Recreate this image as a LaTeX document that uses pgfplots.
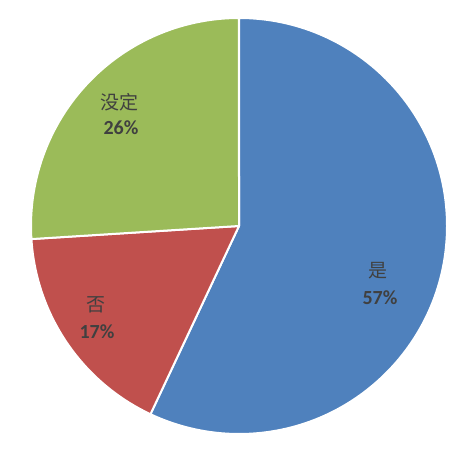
\documentclass[border=0pt]{standalone}
\usepackage{pgfplots}
\pgfplotsset{compat=1.18}
\usepackage{pgfplotstable}
\usepackage{fontspec}
\setmainfont{Carlito}
\newfontfamily\cjk{Noto Sans CJK SC}
\definecolor{pieblue}{HTML}{4F81BD}
\definecolor{piered}{HTML}{C0504D}
\definecolor{piegreen}{HTML}{9BBB59}
\definecolor{textgray}{HTML}{404040}
\pgfplotstableread{
id value
1 57
2 17
3 26
}\piedata
\pgfplotstablegetelem{0}{value}\of\piedata \let\vA\pgfplotsretval
\pgfplotstablegetelem{1}{value}\of\piedata \let\vB\pgfplotsretval
\pgfplotstablegetelem{2}{value}\of\piedata \let\vC\pgfplotsretval
\pgfmathsetmacro\tot{\vA+\vB+\vC}
\pgfmathsetmacro\aA{90-360*(\vA/\tot)}
\pgfmathsetmacro\aB{\aA-360*(\vB/\tot)}
\pgfmathsetmacro\aC{\aB-360*(\vC/\tot)}
\begin{document}
\begin{tikzpicture}
\begin{axis}[scale only axis, width=473pt, height=452pt,
  xmin=0, xmax=473, ymin=0, ymax=452, hide axis, clip=false]
\path (axis cs:0,0) rectangle (axis cs:473,452);
\filldraw[fill=pieblue, draw=white, line width=2pt, line join=round]
  (axis cs:239,226) -- +(90:208pt) arc[start angle=90, end angle=\aA, radius=208pt] -- cycle;
\filldraw[fill=piered, draw=white, line width=2pt, line join=round]
  (axis cs:239,226) -- +(\aA:208pt) arc[start angle=\aA, end angle=\aB, radius=208pt] -- cycle;
\filldraw[fill=piegreen, draw=white, line width=2pt, line join=round]
  (axis cs:239,226) -- +(\aB:208pt) arc[start angle=\aB, end angle=\aC, radius=208pt] -- cycle;
\node[text=textgray, font=\cjk\fontsize{19}{22}\selectfont] at (axis cs:378,181) {是};
\node[text=textgray, font=\bfseries\fontsize{20}{24}\selectfont] at (axis cs:380,154) {57\%};
\node[text=textgray, font=\cjk\fontsize{19}{22}\selectfont] at (axis cs:96,147) {否};
\node[text=textgray, font=\bfseries\fontsize{20}{24}\selectfont] at (axis cs:97,120) {17\%};
\node[text=textgray, font=\cjk\fontsize{19}{22}\selectfont] at (axis cs:119,350) {没定};
\node[text=textgray, font=\bfseries\fontsize{20}{24}\selectfont] at (axis cs:121,324) {26\%};
\end{axis}
\end{tikzpicture}
\end{document}
